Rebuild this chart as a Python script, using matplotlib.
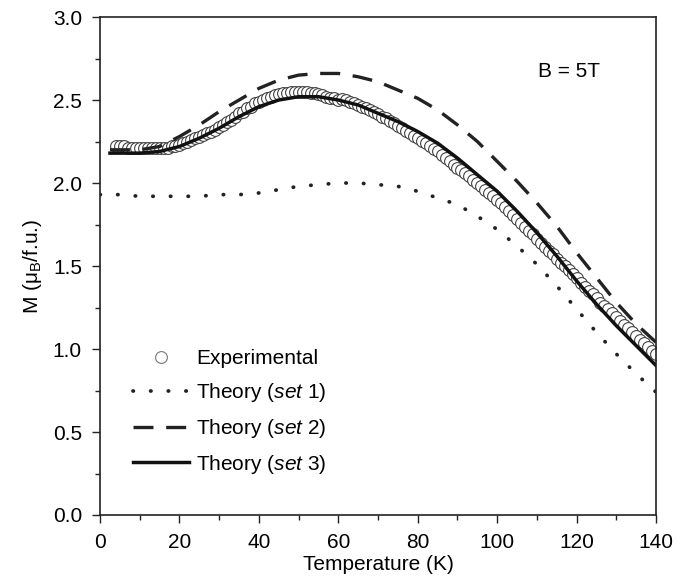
import numpy as np
import matplotlib
matplotlib.use("Agg")
import matplotlib.pyplot as plt
from matplotlib.ticker import MultipleLocator

plt.rcParams["font.family"] = ["Liberation Sans", "DejaVu Sans"]
plt.rcParams["mathtext.fontset"] = "custom"
plt.rcParams["mathtext.rm"] = "Liberation Sans"
plt.rcParams["mathtext.it"] = "Liberation Sans:italic"

# measured magnetisation, 1 K steps from 4 K to 140 K
t_exp = np.arange(4, 141, 1)
m_exp = [
    2.22, 2.22, 2.22, 2.21, 2.21, 2.21, 2.21, 2.21, 2.21, 2.21,
    2.21, 2.21, 2.21, 2.21, 2.22, 2.22, 2.23,
    2.24, 2.25, 2.26, 2.27, 2.28, 2.29, 2.30, 2.31, 2.32, 2.34,
    2.35, 2.37, 2.38, 2.40, 2.42, 2.43, 2.45, 2.46, 2.48, 2.49,
    2.50, 2.51, 2.52, 2.53, 2.535, 2.54, 2.545, 2.55, 2.55, 2.55,
    2.55, 2.55, 2.545, 2.54, 2.535, 2.53, 2.52, 2.515, 2.51, 2.50,
    2.505, 2.50, 2.49, 2.48, 2.47, 2.46, 2.45, 2.44, 2.43, 2.415,
    2.40, 2.39, 2.375, 2.36, 2.345, 2.33, 2.315, 2.30, 2.285, 2.27,
    2.255, 2.24, 2.22, 2.205, 2.19, 2.17, 2.15, 2.13, 2.11, 2.09,
    2.08, 2.06, 2.04, 2.02, 2.00, 1.98, 1.96, 1.94, 1.92, 1.90,
    1.88, 1.855, 1.83, 1.81, 1.785, 1.76, 1.735, 1.71, 1.69, 1.665,
    1.64, 1.615, 1.59, 1.57, 1.545, 1.52, 1.50, 1.475, 1.45, 1.43,
    1.40, 1.375, 1.35, 1.33, 1.305, 1.28, 1.26, 1.24, 1.215, 1.19,
    1.17, 1.145, 1.125, 1.10, 1.08, 1.055, 1.035, 1.01, 0.99, 0.97,
]

# model curves
t_set1 = [0, 5, 10, 15, 20, 25, 30, 35, 40, 45, 50, 55, 60, 65, 70,
          75, 80, 85, 90, 95, 100, 105, 110, 115, 120, 125, 130, 135, 140]
m_set1 = [1.93, 1.93, 1.92, 1.92, 1.92, 1.92, 1.93, 1.93, 1.94, 1.96,
          1.98, 1.99, 2.00, 2.00, 1.99, 1.98, 1.95, 1.91, 1.87, 1.80,
          1.72, 1.62, 1.51, 1.38, 1.24, 1.10, 0.97, 0.85, 0.74]

t_set2 = [2.5, 5, 10, 15, 20, 25, 30, 35, 40, 45, 50, 55, 60, 65, 70,
          75, 80, 85, 90, 95, 100, 105, 110, 115, 120, 125, 130, 135, 140]
m_set2 = [2.20, 2.20, 2.20, 2.22, 2.28, 2.35, 2.43, 2.50, 2.57, 2.62,
          2.65, 2.66, 2.66, 2.64, 2.61, 2.56, 2.51, 2.44, 2.35, 2.25,
          2.13, 2.01, 1.88, 1.74, 1.58, 1.43, 1.28, 1.15, 1.04]

t_set3 = [2.5, 5, 10, 15, 20, 25, 30, 35, 40, 45, 50, 55, 60, 65, 70,
          75, 80, 85, 90, 95, 100, 105, 110, 115, 120, 125, 130, 135, 140]
m_set3 = [2.18, 2.18, 2.18, 2.19, 2.22, 2.27, 2.33, 2.40, 2.46, 2.50,
          2.52, 2.52, 2.50, 2.47, 2.42, 2.37, 2.31, 2.24, 2.15, 2.05,
          1.95, 1.83, 1.70, 1.56, 1.41, 1.27, 1.14, 1.02, 0.90]

FS = 15

fig = plt.figure(figsize=(6.87, 5.81), dpi=100)
ax = fig.add_axes([0.1456, 0.1136, 0.8094, 0.8571])

ax.plot(t_exp, m_exp, linestyle="none", marker="o", markersize=8.5,
        markerfacecolor="white", markeredgecolor="#444444",
        markeredgewidth=0.8, label="Experimental")
ax.plot(t_set1, m_set1, color="#222222", linewidth=2.7,
        linestyle=(0, (0.1, 4.6)), dash_capstyle="round",
        label=r"Theory ($\it{set\ 1}$)")
ax.plot(t_set2, m_set2, color="#222222", linewidth=2.4,
        linestyle=(0, (6.0, 3.8)), label=r"Theory ($\it{set\ 2}$)")
ax.plot(t_set3, m_set3, color="#111111", linewidth=2.5,
        label=r"Theory ($\it{set\ 3}$)")

ax.text(110.3, 2.67, "B = 5T", fontsize=FS, va="center", ha="left")

ax.set_xlim(0, 140)
ax.set_ylim(0, 3.0)
ax.xaxis.set_major_locator(MultipleLocator(20))
ax.xaxis.set_minor_locator(MultipleLocator(10))
ax.set_yticks(np.arange(0, 3.01, 0.5))
ax.set_yticklabels([f"{v:.1f}" for v in np.arange(0, 3.01, 0.5)])
ax.yaxis.set_minor_locator(MultipleLocator(0.25))

ax.tick_params(which="both", direction="out", top=False, right=False,
               labelsize=FS, color="#222222", width=1.0, pad=7)
ax.tick_params(which="major", length=6)
ax.tick_params(which="minor", length=3.5)
for side in ax.spines.values():
    side.set_linewidth(1.2)
    side.set_color("#222222")

ax.set_xlabel("Temperature (K)", fontsize=FS, labelpad=2)
ax.set_ylabel(r"M (μ$_\mathrm{B}$/f.u.)", fontsize=FS, labelpad=6)

leg = ax.legend(loc="upper left", bbox_to_anchor=(0.045, 0.35),
                frameon=False, fontsize=FS, handlelength=2.65,
                handletextpad=0.35, labelspacing=0.62, numpoints=1,
                borderaxespad=0)
leg.legend_handles[0].set_markeredgecolor("#777777")

fig.savefig("out.png", dpi=100)
